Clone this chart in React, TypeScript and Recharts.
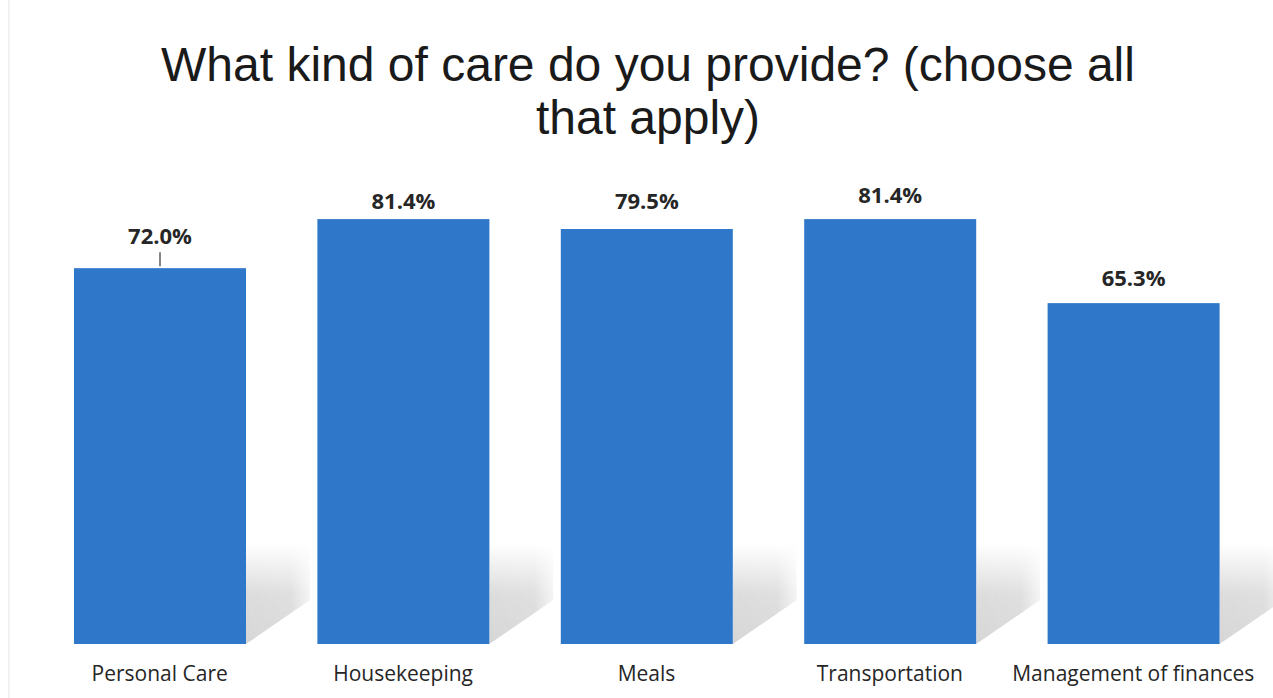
import React from "react";
import { BarChart, Bar, XAxis, YAxis, LabelList } from "recharts";

const categories = ["Personal Care", "Housekeeping", "Meals", "Transportation", "Management of finances"];
const percentages = [72.0, 81.4, 79.5, 81.4, 65.3];
const valueLabels = ["72.0%", "81.4%", "79.5%", "81.4%", "65.3%"];
const titleLines = ["What kind of care do you provide? (choose all", "that apply)"];

// styling: gap (px) between label baseline and bar top, per bar
const labelGaps = [24, 10, 20, 16, 17];

const data = categories.map((c, i) => ({ name: c, value: percentages[i], label: valueLabels[i] }));

const W = 1273;
const H = 698;
const BAR_COLOR = "#2f77c9";

const BarWithShadow = (props: any) => {
  const { x, y, width, height, index } = props;
  const bottom = y + height;
  const sx = x + width;
  const gid = `shadow-grad-${index}`;
  const hid = `shadow-hgrad-${index}`;
  const pts = `${sx},${bottom} ${sx + 64},${bottom - 44} ${sx + 64},${bottom - 100} ${sx},${bottom - 100}`;
  return (
    <g>
      <defs>
        <linearGradient id={gid} gradientUnits="userSpaceOnUse" x1={0} y1={bottom - 100} x2={0} y2={bottom}>
          <stop offset="0%" stopColor="#d6d6d6" stopOpacity={0} />
          <stop offset="50%" stopColor="#d6d6d6" stopOpacity={0.85} />
          <stop offset="100%" stopColor="#d6d6d6" stopOpacity={1} />
        </linearGradient>
        <linearGradient id={hid} gradientUnits="userSpaceOnUse" x1={sx} y1={0} x2={sx + 64} y2={0}>
          <stop offset="0%" stopColor="#fff" stopOpacity={1} />
          <stop offset="70%" stopColor="#fff" stopOpacity={0.9} />
          <stop offset="100%" stopColor="#fff" stopOpacity={0.3} />
        </linearGradient>
        <mask id={`m-${index}`}>
          <rect x={sx} y={bottom - 100} width={64} height={100} fill={`url(#${hid})`} />
        </mask>
      </defs>
      <polygon points={pts} fill={`url(#${gid})`} mask={`url(#m-${index})`} />
      <rect x={x} y={y} width={width} height={height} fill={BAR_COLOR} />
    </g>
  );
};

const ValueLabel = (props: any) => {
  const { x, y, width, value, index } = props;
  const cx = x + width / 2;
  const gap = labelGaps[index] ?? 14;
  const baseline = y - gap;
  return (
    <g>
      <text
        x={cx}
        y={baseline}
        textAnchor="middle"
        fontFamily="'Open Sans', sans-serif"
        fontWeight={700}
        fontSize={22}
        fill="#262626"
      >
        {value}
      </text>
      {index === 0 ? <line x1={cx} x2={cx} y1={baseline + 8} y2={y - 2} stroke="#333" strokeWidth={1.2} /> : null}
    </g>
  );
};

const CategoryTick = (props: any) => {
  const { x, y, payload } = props;
  return (
    <text
      x={x}
      y={y + 37}
      textAnchor="middle"
      fontFamily="'Open Sans', sans-serif"
      fontSize={21}
      fill="#262626"
    >
      {payload.value}
    </text>
  );
};

export default function App() {
  return (
    <div style={{ position: "absolute", left: 0, top: 0, width: W, height: H, background: "#ffffff" }}>
      <BarChart
        width={W}
        height={H}
        data={data}
        margin={{ top: 122, right: 18, bottom: 0, left: 38 }}
      >
        <XAxis
          dataKey="name"
          axisLine={false}
          tickLine={false}
          tickSize={0}
          tickMargin={0}
          height={54}
          tick={<CategoryTick />}
          interval={0}
        />
        <YAxis hide domain={[0, 100]} width={0} />
        <Bar dataKey="value" barSize={172} fill={BAR_COLOR} isAnimationActive={false} shape={<BarWithShadow />}>
          <LabelList dataKey="label" content={<ValueLabel />} />
        </Bar>
      </BarChart>
      <svg
        width={W}
        height={H}
        style={{ position: "absolute", left: 0, top: 0, pointerEvents: "none" }}
      >
        <line x1={9} x2={9} y1={0} y2={H} stroke="#ececec" strokeWidth={1.5} />
        {titleLines.map((t, i) => (
          <text
            key={i}
            x={648}
            y={81 + i * 53}
            textAnchor="middle"
            fontFamily="'Liberation Sans', Arial, sans-serif"
            fontSize={48}
            fill="#1a1a1a"
          >
            {t}
          </text>
        ))}
      </svg>
    </div>
  );
}
